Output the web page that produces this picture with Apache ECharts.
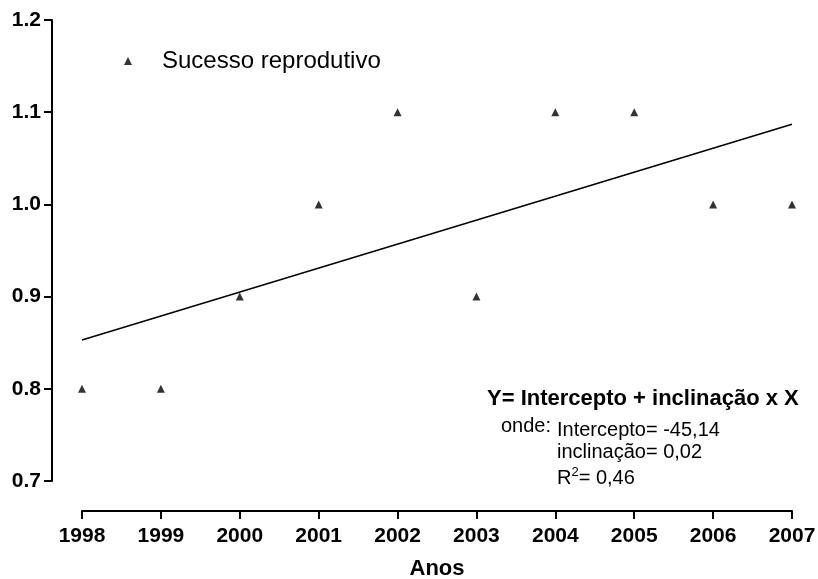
<!DOCTYPE html>
<html>
<head>
<meta charset="utf-8">
<style>
  html, body { margin: 0; padding: 0; background: #fff; }
  #chart { width: 818px; height: 579px; }
</style>
<script src="https://cdn.jsdelivr.net/npm/echarts@6/dist/echarts.min.js"></script>
</head>
<body>
<div id="chart"></div>
<script>
// dados
var anos = [1998, 1999, 2000, 2001, 2002, 2003, 2004, 2005, 2006, 2007];
var sucesso = [0.8, 0.8, 0.9, 1.0, 1.1, 0.9, 1.1, 1.1, 1.0, 1.0];
// reta de regressao (pontas)
var retaAnos = [1998, 2007];
var retaValores = [0.853, 1.087];
var yTicks = [0.7, 0.8, 0.9, 1.0, 1.1, 1.2];

var font = 'Liberation Sans, Arial, Helvetica, sans-serif';

var chart = echarts.init(document.getElementById('chart'));

var option = {
    backgroundColor: '#fff',
    animation: false,
    textStyle: { fontFamily: font, color: '#000' },
    grid: {
        left: 82,
        right: 26,
        top: 20,
        bottom: 98,
        outerBoundsMode: 'none',
        containLabel: false
    },
    legend: {
        data: ['Sucesso reprodutivo'],
        left: 119,
        top: 44,
        icon: 'triangle',
        itemWidth: 8,
        itemHeight: 8,
        textStyle: {
            fontFamily: font,
            fontSize: 24,
            color: '#000',
            padding: [0, 0, 0, 25]
        }
    },
    xAxis: {
        type: 'value',
        min: anos[0],
        max: anos[anos.length - 1],
        interval: 1,
        offset: 30,
        name: 'Anos',
        nameLocation: 'middle',
        nameGap: 47,
        nameTextStyle: { fontFamily: font, fontSize: 22, fontWeight: 'bold', color: '#000' },
        axisLine: { show: true, lineStyle: { color: '#000', width: 2 } },
        axisTick: { show: true, length: 8, lineStyle: { color: '#000', width: 2 } },
        axisLabel: {
            margin: 15,
            fontFamily: font,
            fontSize: 21,
            fontWeight: 'bold',
            color: '#000',
            formatter: function (v) { return String(v); }
        },
        splitLine: { show: false }
    },
    yAxis: {
        type: 'value',
        min: yTicks[0],
        max: yTicks[yTicks.length - 1],
        interval: 0.1,
        offset: 30,
        axisLine: { show: true, lineStyle: { color: '#000', width: 2 } },
        axisTick: { show: true, length: 8, lineStyle: { color: '#000', width: 2 } },
        axisLabel: {
            margin: 11,
            fontFamily: font,
            fontSize: 21,
            fontWeight: 'bold',
            color: '#000',
            formatter: function (v) { return v.toFixed(1); }
        },
        splitLine: { show: false }
    },
    graphic: [
        {
            type: 'text',
            left: 487,
            top: 388,
            style: {
                text: 'Y= Intercepto + inclinação x X',
                font: 'bold 22px ' + font,
                fill: '#000'
            }
        },
        {
            type: 'text',
            left: 501,
            top: 416,
            style: {
                text: 'onde:',
                font: '20px ' + font,
                fill: '#000'
            }
        },
        {
            type: 'text',
            left: 557,
            top: 420,
            style: {
                text: 'Intercepto= -45,14',
                font: '20px ' + font,
                fill: '#000'
            }
        },
        {
            type: 'text',
            left: 557,
            top: 442,
            style: {
                text: 'inclinação= 0,02',
                font: '20px ' + font,
                fill: '#000'
            }
        },
        {
            type: 'text',
            left: 557,
            top: 466,
            style: {
                text: '{a|R}{s|2}{a|= 0,46}',
                rich: {
                    a: { fontFamily: font, fontSize: 20, color: '#000', verticalAlign: 'bottom' },
                    s: { fontFamily: font, fontSize: 13, color: '#000', verticalAlign: 'top', padding: [0, 0, 9, 0] }
                }
            }
        }
    ],
    series: [
        {
            name: 'Sucesso reprodutivo',
            type: 'scatter',
            symbol: 'triangle',
            symbolSize: 8,
            itemStyle: { color: '#000' },
            data: anos.map(function (a, i) { return [a, sucesso[i]]; })
        },
        {
            name: 'reta',
            type: 'line',
            symbol: 'none',
            lineStyle: { color: '#000', width: 1.5 },
            data: retaAnos.map(function (a, i) { return [a, retaValores[i]]; })
        }
    ]
};

chart.setOption(option);
</script>
</body>
</html>
